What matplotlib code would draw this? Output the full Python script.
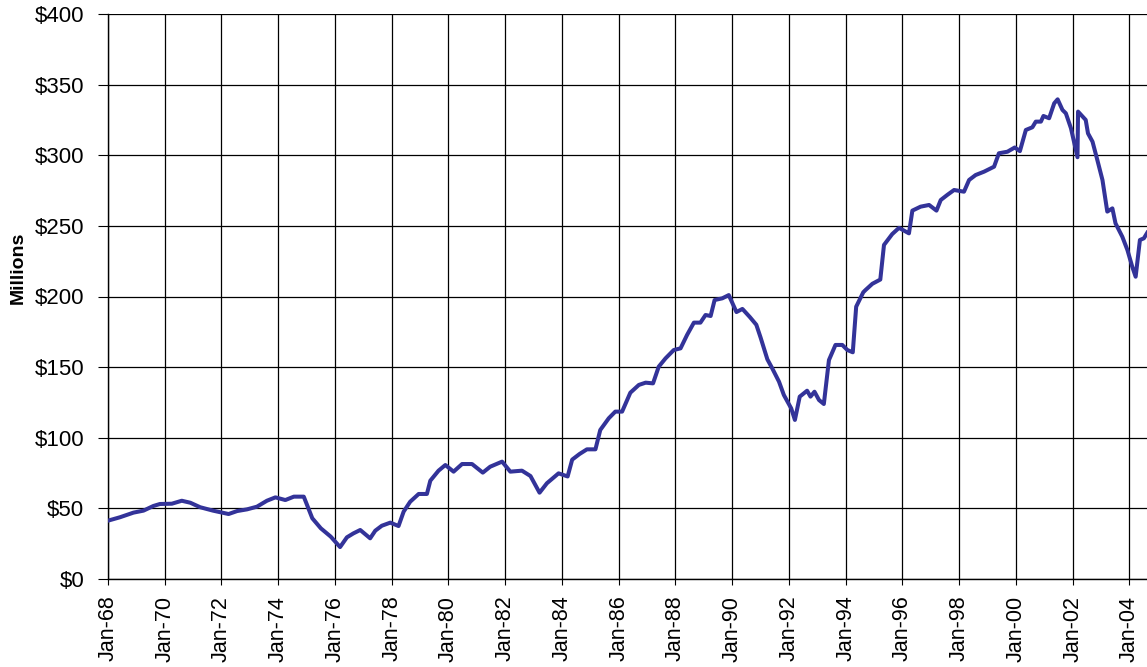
import matplotlib
matplotlib.use("Agg")
import matplotlib.pyplot as plt

# decimal year / value in $ millions
years = [1968.00, 1968.42, 1968.90, 1969.25, 1969.60, 1969.83, 1970.25, 1970.60, 1970.90,
         1971.25, 1971.70, 1972.25, 1972.55, 1972.90, 1973.25, 1973.60, 1973.90, 1974.25,
         1974.55, 1974.90, 1975.20, 1975.50, 1975.85, 1976.18, 1976.42, 1976.65, 1976.89,
         1977.24, 1977.42, 1977.65, 1977.95, 1978.24, 1978.42, 1978.65, 1978.95, 1979.24,
         1979.36, 1979.65, 1979.89, 1980.18, 1980.48, 1980.83, 1981.21, 1981.47, 1981.89,
         1982.18, 1982.59, 1982.89, 1983.21, 1983.47, 1983.88, 1984.20, 1984.36, 1984.62,
         1984.88, 1985.18, 1985.35, 1985.65, 1985.88, 1986.12, 1986.41, 1986.71, 1986.95,
         1987.21, 1987.41, 1987.65, 1987.94, 1988.18, 1988.41, 1988.65, 1988.88, 1989.06,
         1989.24, 1989.38, 1989.65, 1989.88, 1990.15, 1990.36, 1990.62, 1990.85, 1991.00,
         1991.24, 1991.41, 1991.65, 1991.82, 1992.08, 1992.21, 1992.38, 1992.64, 1992.76,
         1992.90, 1993.06, 1993.23, 1993.41, 1993.64, 1993.88, 1994.06, 1994.25, 1994.37,
         1994.62, 1994.70, 1994.94, 1995.22, 1995.35, 1995.64, 1995.88, 1996.23, 1996.35,
         1996.64, 1996.94, 1997.20, 1997.35, 1997.58, 1997.82, 1998.17, 1998.35, 1998.58,
         1998.88, 1999.23, 1999.40, 1999.70, 1999.96, 2000.14, 2000.35, 2000.58, 2000.70,
         2000.88, 2000.97, 2001.17, 2001.35, 2001.47, 2001.64, 2001.76, 2001.94, 2002.17,
         2002.19, 2002.46, 2002.54, 2002.70, 2002.87, 2003.05, 2003.22, 2003.40, 2003.51,
         2003.75, 2003.93, 2004.10, 2004.22, 2004.37, 2004.51, 2004.63]
values = [41.3, 43.7, 47.0, 48.4, 51.7, 53.1, 53.3, 55.4, 54.0,
          50.8, 48.4, 46.0, 48.1, 49.3, 51.2, 55.4, 57.8, 55.9,
          58.3, 58.3, 43.0, 35.9, 30.0, 22.6, 29.5, 32.3, 34.7,
          28.8, 34.2, 37.7, 39.9, 37.5, 47.7, 54.7, 60.2, 60.2,
          69.6, 76.7, 80.7, 76.0, 81.4, 81.4, 75.3, 79.5, 83.1,
          76.0, 76.7, 72.9, 61.1, 67.8, 74.8, 72.6, 84.5, 88.5,
          91.8, 91.8, 105.5, 113.8, 118.5, 118.5, 131.9, 137.4, 139.0,
          138.5, 150.3, 156.2, 162.1, 163.3, 172.8, 181.5, 181.5, 186.9,
          186.2, 197.5, 198.7, 201.0, 189.0, 191.2, 185.5, 180.0, 171.0,
          155.5, 149.2, 139.7, 130.3, 120.8, 112.6, 129.1, 133.3, 129.1,
          132.6, 126.7, 123.9, 155.0, 165.7, 165.7, 162.1, 160.5, 192.8,
          203.0, 204.6, 209.0, 212.0, 236.5, 244.2, 248.6, 244.7, 260.8,
          263.6, 264.8, 260.8, 268.3, 271.9, 275.4, 274.2, 282.5, 286.0,
          288.4, 291.9, 301.4, 302.5, 305.5, 302.9, 317.9, 319.8, 323.8,
          323.8, 327.8, 326.2, 336.8, 339.6, 332.1, 329.7, 319.1, 298.6,
          330.9, 325.0, 315.5, 309.6, 296.6, 282.5, 260.1, 262.4, 251.8,
          242.3, 232.9, 221.1, 214.0, 240.0, 241.2, 245.2]

tick_years = list(range(1968, 2005, 2))
tick_labels = ["Jan-%02d" % (y % 100) for y in tick_years]
y_ticks = list(range(0, 401, 50))
y_labels = ["$%d" % v for v in y_ticks]

plt.rcParams["font.family"] = ["Liberation Sans", "DejaVu Sans"]

fig = plt.figure(figsize=(11.47, 6.67), dpi=100)
ax = fig.add_axes([108 / 1147, 1 - 579 / 667, 1 - 108 / 1147, (579 - 14) / 667])

ax.plot(years, values, color="#333399", lw=2.9, solid_joinstyle="round", zorder=3)

ax.set_xlim(1968, 2004.62)
ax.set_ylim(0, 400)
ax.set_xticks(tick_years)
ax.set_xticklabels(tick_labels, rotation=90, fontsize=15.5)
ax.set_yticks(y_ticks)
ax.set_yticklabels(y_labels, fontsize=16)
ax.tick_params(axis="y", length=7, width=0.8, pad=10)
ax.tick_params(axis="x", length=4, width=0.8, pad=8)

ax.grid(True, color="black", lw=0.9, zorder=1)
for side in ["top", "right"]:
    ax.spines[side].set_visible(False)
for side in ["left", "bottom"]:
    ax.spines[side].set_linewidth(1.0)
ax.axhline(400, color="#808080", lw=1.2, zorder=1)

ax.set_ylabel("Millions", fontsize=14, fontweight="bold")
ax.yaxis.set_label_coords(-0.078, 0.55)

fig.savefig("out.png", dpi=100)
